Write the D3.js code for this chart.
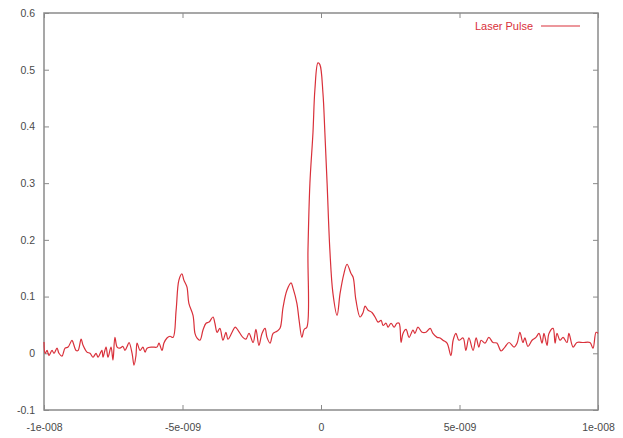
<!DOCTYPE html>
<html>
<head>
<meta charset="utf-8">
<script src="https://cdn.jsdelivr.net/npm/d3@7"></script>
<style>
  body { margin: 0; background: #fff; }
  text { font-family: "Liberation Sans", Arial, sans-serif; }
</style>
</head>
<body>
<div id="chart-area"></div>
<script>
// data: time in ns, amplitude
var timeNs = [
  -10.0, -9.96, -9.89, -9.82, -9.71, -9.64, -9.53, -9.46, -9.35, -9.24, -9.13, -8.99, -8.95, -8.84, -8.77,
  -8.66, -8.59, -8.45, -8.34, -8.23, -8.12, -8.05, -7.91, -7.87, -7.76, -7.69, -7.58, -7.51, -7.44, -7.36,
  -7.26, -7.15, -7.08, -7.00, -6.93, -6.82, -6.75, -6.68, -6.64, -6.53, -6.43, -6.35, -6.28, -6.10, -5.92,
  -5.85, -5.74, -5.67, -5.56, -5.45, -5.34, -5.23, -5.13, -5.02, -4.95, -4.84, -4.77, -4.62, -4.55, -4.48,
  -4.37, -4.26, -4.15, -4.04, -3.90, -3.83, -3.75, -3.65, -3.54, -3.43, -3.36, -3.21, -3.10, -3.00, -2.82,
  -2.71, -2.60, -2.45, -2.35, -2.24, -2.13, -2.02, -1.95, -1.84, -1.73, -1.59, -1.48, -1.37, -1.23, -1.08,
  -1.01, -0.87, -0.79, -0.69, -0.61, -0.51, -0.47, -0.40, -0.29, -0.22, -0.11, -0.04, 0.07, 0.14, 0.22,
  0.32, 0.43, 0.58, 0.69, 0.83, 0.94, 1.08, 1.16, 1.26, 1.41, 1.52, 1.59, 1.70, 1.84, 1.95,
  2.06, 2.17, 2.24, 2.35, 2.42, 2.53, 2.64, 2.74, 2.82, 2.89, 2.96, 3.07, 3.18, 3.32, 3.39,
  3.50, 3.65, 3.79, 3.94, 4.04, 4.19, 4.30, 4.40, 4.55, 4.69, 4.77, 4.87, 4.98, 5.13, 5.23,
  5.34, 5.49, 5.60, 5.70, 5.78, 5.92, 6.06, 6.21, 6.35, 6.50, 6.64, 6.79, 6.97, 7.08, 7.18,
  7.29, 7.36, 7.47, 7.62, 7.76, 7.87, 7.98, 8.05, 8.16, 8.23, 8.38, 8.45, 8.52, 8.63, 8.74,
  8.88, 8.95, 9.10, 9.24, 9.46, 9.71, 9.82, 9.93, 10.0
]
var amplitude = [
  0.020, 0.000, 0.005, -0.004, 0.005, 0.000, 0.009, 0.000, -0.005, 0.009, 0.011, 0.023, 0.019, 0.005, 0.005,
  0.025, 0.014, 0.002, 0.000, -0.007, 0.000, -0.007, 0.005, -0.007, 0.011, -0.007, 0.011, -0.012, 0.028, 0.011,
  0.009, 0.012, 0.005, 0.012, 0.019, 0.000, -0.021, -0.004, 0.018, 0.005, 0.011, 0.002, 0.009, 0.011, 0.011,
  0.018, 0.005, 0.018, 0.027, 0.030, 0.028, 0.076, 0.129, 0.140, 0.129, 0.117, 0.088, 0.067, 0.035, 0.027,
  0.023, 0.041, 0.053, 0.055, 0.064, 0.053, 0.037, 0.044, 0.023, 0.037, 0.025, 0.037, 0.046, 0.041, 0.028,
  0.025, 0.035, 0.019, 0.042, 0.014, 0.035, 0.044, 0.028, 0.018, 0.035, 0.039, 0.044, 0.081, 0.111, 0.124,
  0.115, 0.088, 0.058, 0.028, 0.042, 0.046, 0.182, 0.300, 0.389, 0.465, 0.512, 0.509, 0.459, 0.389, 0.300,
  0.182, 0.106, 0.067, 0.106, 0.141, 0.157, 0.141, 0.134, 0.094, 0.064, 0.072, 0.083, 0.076, 0.072, 0.064,
  0.055, 0.058, 0.049, 0.053, 0.046, 0.053, 0.046, 0.053, 0.053, 0.019, 0.035, 0.042, 0.028, 0.041, 0.035,
  0.046, 0.037, 0.037, 0.044, 0.035, 0.028, 0.027, 0.023, 0.018, -0.004, 0.023, 0.035, 0.023, 0.027, 0.005,
  0.027, 0.005, 0.027, 0.011, 0.023, 0.018, 0.028, 0.019, 0.018, 0.004, 0.011, 0.019, 0.011, 0.018, 0.037,
  0.019, 0.027, 0.012, 0.023, 0.028, 0.035, 0.018, 0.035, 0.014, 0.035, 0.044, 0.018, 0.035, 0.023, 0.028,
  0.019, 0.035, 0.011, 0.019, 0.019, 0.019, 0.009, 0.037, 0.035
]

var xTicks = [-1e-8, -5e-9, 0, 5e-9, 1e-8]
var xTickLabels = ["-1e-008", "-5e-009", "0", "5e-009", "1e-008"]
var yTicks = [-0.1, 0, 0.1, 0.2, 0.3, 0.4, 0.5, 0.6]
var yTickLabels = ["-0.1", "0", "0.1", "0.2", "0.3", "0.4", "0.5", "0.6"]
var seriesName = "Laser Pulse"

const W = 623, H = 438
const MARGIN = {left: 44, right: 25, top: 13, bottom: 28}
const LINE_COLOR = "#d9303a", AXIS_COLOR = "#8a8a8a", TEXT_COLOR = "#4a4a4a"

const svg = d3.select("#chart-area").append("svg")
    .attr("width", W)
    .attr("height", H)

var x = d3.scaleLinear().domain([-1e-8, 1e-8]).range([MARGIN.left, W - MARGIN.right])
var y = d3.scaleLinear().domain([-0.1, 0.6]).range([H - MARGIN.bottom, MARGIN.top])

var points = timeNs.map((t, i) => ({t: t * 1e-9, v: amplitude[i]}))

// axes: labels outside, ticks inside, mirrored on top/right like gnuplot
function styleAxis(g) {
    g.select(".domain").remove()
    g.selectAll(".tick line").attr("stroke", AXIS_COLOR).attr("stroke-width", 1)
    g.selectAll(".tick text").attr("fill", TEXT_COLOR).style("font-size", "10.5px")
}

svg.append("g")
    .attr("transform", `translate(0,${y(-0.1)})`)
    .call(d3.axisBottom(x).tickValues(xTicks).tickSize(-5).tickPadding(14)
        .tickFormat((d, i) => xTickLabels[i]))
    .call(styleAxis)

svg.append("g")
    .attr("transform", `translate(${x(-1e-8)},0)`)
    .call(d3.axisLeft(y).tickValues(yTicks).tickSize(-5).tickPadding(9)
        .tickFormat((d, i) => yTickLabels[i]))
    .call(styleAxis)

svg.append("g")
    .attr("transform", `translate(0,${y(0.6)})`)
    .call(d3.axisTop(x).tickValues(xTicks).tickSize(-5).tickFormat(""))
    .call(styleAxis)

svg.append("g")
    .attr("transform", `translate(${x(1e-8)},0)`)
    .call(d3.axisRight(y).tickValues(yTicks).tickSize(-5).tickFormat(""))
    .call(styleAxis)

// frame
svg.append("rect")
    .attr("x", x(-1e-8))
    .attr("y", y(0.6))
    .attr("width", x(1e-8) - x(-1e-8))
    .attr("height", y(-0.1) - y(0.6))
    .attr("fill", "none")
    .attr("stroke", AXIS_COLOR)
    .attr("stroke-width", 1.5)

// the pulse
var line = d3.line()
    .x(d => x(d.t))
    .y(d => y(d.v))
    .curve(d3.curveCatmullRom.alpha(0.5))

svg.append("path")
    .datum(points)
    .attr("d", line)
    .attr("fill", "none")
    .attr("stroke", LINE_COLOR)
    .attr("stroke-width", 1.2)

// legend
const legend = svg.append("g").attr("transform", "translate(580,26)")
legend.append("text")
    .attr("x", -47)
    .attr("dy", "0.35em")
    .attr("text-anchor", "end")
    .attr("fill", LINE_COLOR)
    .style("font-size", "11px")
    .text(seriesName)
legend.append("line")
    .attr("x1", -39).attr("x2", 0)
    .attr("stroke", LINE_COLOR)
    .attr("stroke-width", 1.2)
</script>
</body>
</html>
